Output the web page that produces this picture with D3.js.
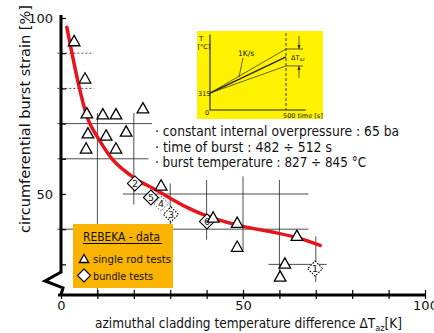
<!DOCTYPE html>
<html>
<head>
<meta charset="utf-8">
<script src="https://cdn.jsdelivr.net/npm/d3@7"></script>
<style>
  body { margin: 0; background: #fff; }
  svg { display: block; }
  text { font-family: "DejaVu Sans", sans-serif; fill: #111; }
</style>
</head>
<body>
<svg id="chart" width="434" height="333"></svg>
<script>
// single rod tests: [azimuthal dT (K), burst strain (%)]
const singleRod = [
  [3.6, 93.2], [6.6, 82.6], [7.1, 72.7], [11.5, 72.4], [15.1, 72.4], [22.5, 74.1],
  [7.4, 67.0], [12.4, 66.4], [17.9, 67.5], [6.9, 62.7], [15.1, 62.7],
  [27.5, 52.2], [41.8, 43.1], [48.4, 41.6], [48.4, 34.8], [64.8, 37.9],
  [61.5, 30.0], [60.2, 26.3]
];
// bundle tests: [label, dT, strain]
const bundle = [
  ["2", 20.3, 53.0], ["5", 24.7, 49.0], ["4", 27.5, 47.3],
  ["3", 30.2, 44.2], ["6", 40.1, 42.2], ["1", 69.8, 28.8]
];
const dashedBundle = ["1", "3", "4"];
// red trend line
const fitCurve = [
  [1.6, 97.4], [5.2, 79.5], [7.5, 71.0], [10.4, 65.5], [14.3, 59.6], [17, 57.0],
  [21, 54.0], [26, 51.2], [34.6, 46.2], [40, 43.8], [50, 40.8], [58, 39.2],
  [64.8, 37.6], [71.2, 35.4]
];
// scatter of error/grid strokes: [strain, dT from, dT to] and [dT, strain from, strain to]
const hGrid = [[70, -1, 25], [60, -1, 24], [50, 17, 68], [40, -1, 68], [30, 57, 73]];
const hGridDotted = [[90, -1, 9], [80, -1, 9]];
const vGrid = [[10, 73, 21.3], [20, 73, 47], [30, 53, 40], [40, 54, 37], [50, 55, 34], [60, 54, 28], [70, 38, 25]];

const xTickValues = [0, 10, 20, 30, 40, 50, 60, 70, 80, 90, 100];
const xTickLabels = ["0", "50", "100"];
const yTickValues = [30, 40, 50, 60, 70, 80, 90, 100];
const yTickLabels = ["50", "100"];
const yBreak = [27.8, 25.3, 23.3]; // zigzag of the broken strain axis

const notes = [
  "· constant internal overpressure : 65 ba",
  "· time of burst : 482 ÷ 512 s",
  "· burst temperature : 827 ÷ 845 °C"
];

// inset: cladding temperature vs time
const insetTime = [0, 500];
const insetStartT = 315;
const insetEndT = [1133, 985, 818];

const svg = d3.select("#chart");

const x = d3.scaleLinear().domain([0, 100]).range([61, 425]);
const y = d3.scaleLinear().domain([21.3, 100]).range([295, 18]);

// grid / scatter strokes
const grid = svg.append("g").attr("stroke", "#222").attr("stroke-width", 0.8);
grid.selectAll(".h").data(hGrid).enter().append("line")
  .attr("x1", d => x(d[1])).attr("x2", d => x(d[2]))
  .attr("y1", d => y(d[0])).attr("y2", d => y(d[0]));
grid.selectAll(".hd").data(hGridDotted).enter().append("line")
  .attr("stroke-dasharray", "2,2")
  .attr("x1", d => x(d[1])).attr("x2", d => x(d[2]))
  .attr("y1", d => y(d[0])).attr("y2", d => y(d[0]));
grid.selectAll(".v").data(vGrid).enter().append("line")
  .attr("x1", d => x(d[0])).attr("x2", d => x(d[0]))
  .attr("y1", d => y(d[1])).attr("y2", d => y(d[2]));

// x axis
const xAxis = svg.append("g")
  .attr("transform", "translate(0," + y(21.3) + ")")
  .call(d3.axisBottom(x).tickValues(xTickValues).tickSize(4)
    .tickFormat(d => xTickLabels.includes(String(d)) ? String(d) : ""));
xAxis.select(".domain").remove();
xAxis.selectAll(".tick line").attr("y1", -5).attr("stroke-width", 1.2);
xAxis.selectAll(".tick text").attr("font-size", 13).attr("y", 6)
  .style("font-family", "DejaVu Sans");
xAxis.append("line").attr("x1", 58).attr("x2", x(100) + 1)
  .attr("stroke", "#000").attr("stroke-width", 3);

// y axis
const yAxis = svg.append("g")
  .attr("transform", "translate(" + x(0) + ",0)")
  .call(d3.axisLeft(y).tickValues(yTickValues).tickSize(4)
    .tickFormat(d => yTickLabels.includes(String(d)) ? String(d) : ""));
yAxis.select(".domain").remove();
yAxis.selectAll(".tick line").attr("x2", 5).attr("stroke-width", 1.2);
yAxis.selectAll(".tick text").attr("font-size", 13).attr("x", -8)
  .style("font-family", "DejaVu Sans");

const yLine = [
  [x(0), y(100) - 3], [x(0), y(yBreak[0])], [x(0) - 16, y(yBreak[1])],
  [x(0) + 2, y(yBreak[2])], [x(0), y(21.3)]
];
svg.append("path").attr("d", d3.line()(yLine))
  .attr("fill", "none").attr("stroke", "#000").attr("stroke-width", 3)
  .attr("stroke-linejoin", "miter");

// axis titles
svg.append("text")
  .attr("transform", "translate(30,119) rotate(-90)")
  .attr("text-anchor", "middle").attr("font-size", 14.5)
  .attr("textLength", 228).attr("lengthAdjust", "spacingAndGlyphs")
  .text("circumferential burst strain [%]");

const xTitle = svg.append("text").attr("x", 95).attr("y", 327.5).attr("font-size", 14)
  .attr("textLength", 307).attr("lengthAdjust", "spacingAndGlyphs");
xTitle.append("tspan").text("azimuthal cladding temperature difference ΔT");
xTitle.append("tspan").attr("font-size", 9.5).attr("dy", 3).text("az");
xTitle.append("tspan").attr("dy", -3).text("[K]");

// trend line
svg.append("path").datum(fitCurve)
  .attr("d", d3.line().x(d => x(d[0])).y(d => y(d[1])).curve(d3.curveCatmullRom.alpha(0.5)))
  .attr("fill", "none").attr("stroke", "#e8141b").attr("stroke-width", 3.5)
  .attr("stroke-linecap", "round");

const triPath = "M0,-6.5L5.8,3.8L-5.8,3.8Z";
const diaPath = "M0,-7.5L7.5,0L0,7.5L-7.5,0Z";

// bundle tests
const bg = svg.selectAll(".bundle").data(bundle).enter().append("g")
  .attr("transform", d => "translate(" + x(d[1]) + "," + y(d[2]) + ")");
bg.append("path").attr("d", diaPath)
  .attr("fill", d => d[0] === "4" ? "none" : "#fff")
  .attr("stroke", "#000").attr("stroke-width", 1.1)
  .attr("stroke-opacity", d => d[0] === "4" ? 0.45 : 1)
  .attr("stroke-dasharray", d => dashedBundle.includes(d[0]) ? "1.6,1.4" : null);
bg.append("text").attr("text-anchor", "middle").attr("dy", "0.36em")
  .attr("font-size", 9.5).text(d => d[0]);

// single rod tests
svg.selectAll(".rod").data(singleRod).enter().append("path")
  .attr("d", triPath)
  .attr("transform", d => "translate(" + x(d[0]) + "," + y(d[1]) + ")")
  .attr("fill", "#fff").attr("stroke", "#000").attr("stroke-width", 1.3)
  .attr("stroke-linejoin", "miter");

// test conditions
const noteLen = [244, 177, 211];
svg.selectAll(".note").data(notes).enter().append("text")
  .attr("x", 155).attr("y", (d, i) => 136 + i * 15.5)
  .attr("font-size", 13.5)
  .attr("textLength", (d, i) => noteLen[i]).attr("lengthAdjust", "spacingAndGlyphs")
  .text(d => d);

// legend
const lg = svg.append("g");
lg.append("rect").attr("x", 73).attr("y", 224).attr("width", 100).attr("height", 64)
  .attr("fill", "#fab400");
lg.append("text").attr("x", 83).attr("y", 241).attr("font-size", 12)
  .attr("textLength", 77).attr("lengthAdjust", "spacingAndGlyphs").text("REBEKA - data");
lg.append("line").attr("x1", 83).attr("x2", 162).attr("y1", 243.5).attr("y2", 243.5)
  .attr("stroke", "#000").attr("stroke-width", 1.1);
lg.append("path").attr("d", "M0,-5L4.6,3L-4.6,3Z").attr("transform", "translate(84,259.5)")
  .attr("fill", "#fff").attr("stroke", "#000").attr("stroke-width", 1.3);
lg.append("text").attr("x", 93).attr("y", 263).attr("font-size", 11)
  .attr("textLength", 78).attr("lengthAdjust", "spacingAndGlyphs").text("single rod tests");
lg.append("path").attr("d", "M0,-6.5L6.5,0L0,6.5L-6.5,0Z").attr("transform", "translate(84,275.5)")
  .attr("fill", "#fff").attr("stroke", "#000").attr("stroke-width", 1.1);
lg.append("text").attr("x", 93).attr("y", 279.5).attr("font-size", 11)
  .attr("textLength", 60).attr("lengthAdjust", "spacingAndGlyphs").text("bundle tests");

// inset
const ins = svg.append("g");
ins.append("rect").attr("x", 197).attr("y", 31).attr("width", 126).attr("height", 88)
  .attr("fill", "#fff200");
const tx = d3.scaleLinear().domain(insetTime).range([210, 286]);
const ty = d3.scaleLinear().domain([0, 1300]).range([110, 40]);
ins.append("path")
  .attr("d", d3.line()([[tx(0), ty(1400)], [tx(0), ty(0)], [tx(630), ty(0)]]))
  .attr("fill", "none").attr("stroke", "#222").attr("stroke-width", 1.1);
ins.append("line").attr("x1", tx(500)).attr("x2", tx(500))
  .attr("y1", ty(1430)).attr("y2", ty(0))
  .attr("stroke", "#222").attr("stroke-width", 0.9).attr("stroke-dasharray", "3,2");
ins.selectAll(".ramp").data(insetEndT).enter().append("line")
  .attr("x1", tx(0)).attr("y1", ty(insetStartT))
  .attr("x2", tx(500)).attr("y2", d => ty(d))
  .attr("stroke", "#222").attr("stroke-width", (d, i) => i === 1 ? 1.3 : 0.7);
// delta T_az bracket
const dTop = ty(insetEndT[0]), dBot = ty(insetEndT[2]);
[dTop, dBot].forEach(v => ins.append("line")
  .attr("x1", tx(500)).attr("x2", tx(500) + 17).attr("y1", v).attr("y2", v)
  .attr("stroke", "#222").attr("stroke-width", 0.7));
const ax = tx(500) + 13;
ins.append("line").attr("x1", ax).attr("x2", ax).attr("y1", dTop - 13).attr("y2", dTop)
  .attr("stroke", "#222").attr("stroke-width", 0.7);
ins.append("path").attr("d", `M${ax - 1.5},${dTop - 4}L${ax},${dTop}L${ax + 1.5},${dTop - 4}Z`)
  .attr("fill", "#222");
ins.append("line").attr("x1", ax).attr("x2", ax).attr("y1", dBot + 12).attr("y2", dBot)
  .attr("stroke", "#222").attr("stroke-width", 0.7);
ins.append("path").attr("d", `M${ax - 1.5},${dBot + 4}L${ax},${dBot}L${ax + 1.5},${dBot + 4}Z`)
  .attr("fill", "#222");
const small = (t, xx, yy, fs) => ins.append("text").attr("x", xx).attr("y", yy)
  .attr("font-size", fs).text(t);
small("T", 199, 41, 7);
small("[°C]", 197.5, 48.5, 6.5);
small("315", 198, ty(insetStartT) + 2.5, 6.5);
small("0", 205, 115, 6.5);
small("500 time [s]", 283, 118, 6.5);
small("1K/s", 238, 56, 7.5);
ins.append("line").attr("x1", 243).attr("y1", 58).attr("x2", 239).attr("y2", 77)
  .attr("stroke", "#222").attr("stroke-width", 0.7);
const dl = ins.append("text").attr("x", 291).attr("y", 59.5).attr("font-size", 6.5);
dl.append("tspan").text("ΔT");
dl.append("tspan").attr("font-size", 4.5).attr("dy", 1.5).text("az");
</script>
</body>
</html>
